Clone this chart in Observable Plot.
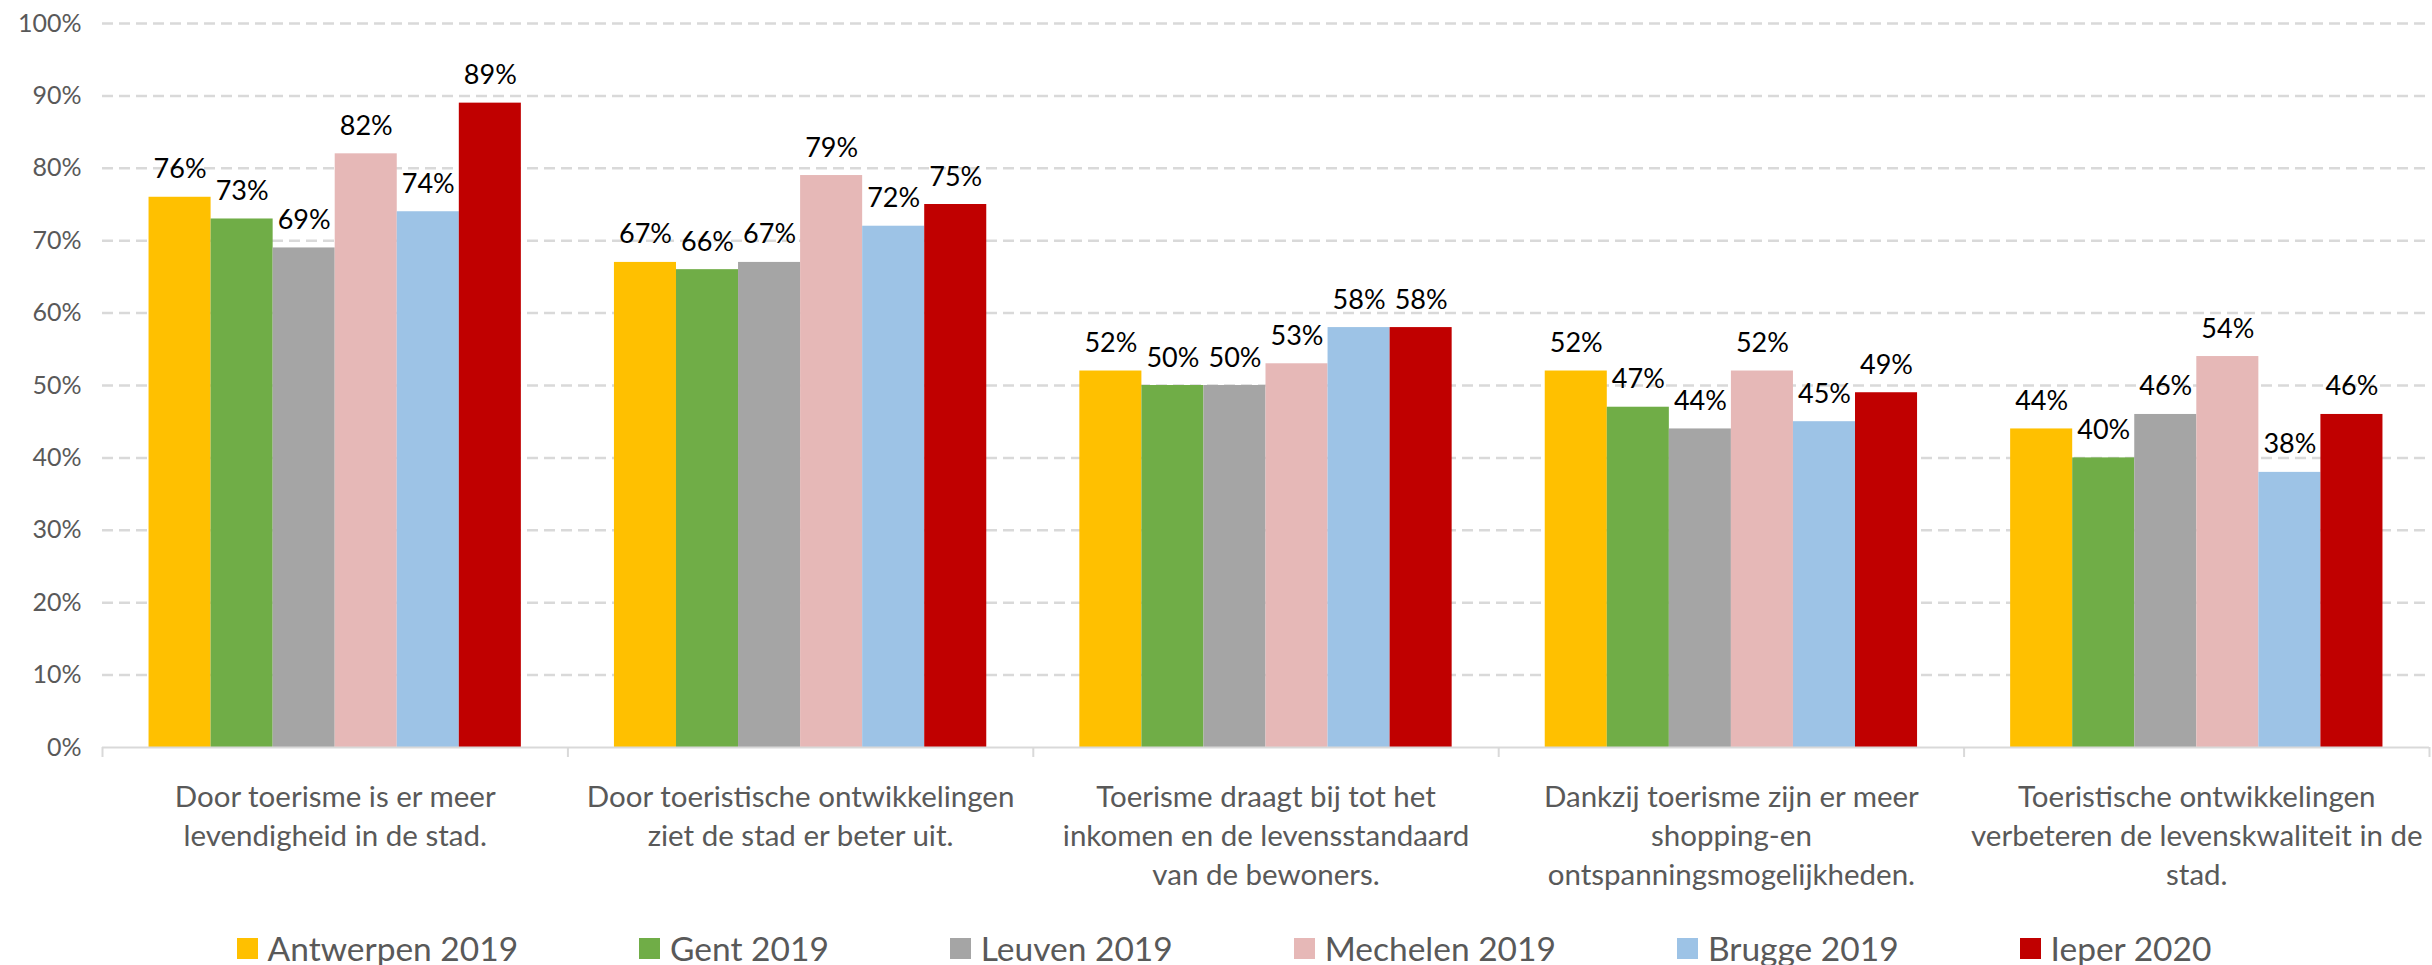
<!DOCTYPE html>
<html>
<head>
<meta charset="utf-8">
<script src="https://cdn.jsdelivr.net/npm/d3@7"></script>
<script src="https://cdn.jsdelivr.net/npm/@observablehq/plot@0.6"></script>
<style>
  html, body { margin: 0; padding: 0; background: #fff; }
  #chart { width: 2432px; }
  #legend { display: flex; justify-content: center; align-items: center; gap: 121px;
    font-family: Lato, "Open Sans", sans-serif; font-size: 33.5px; color: #595959;
    height: 34px; margin-top: 26px; padding-left: 16px; }
  .item { display: flex; align-items: center; white-space: nowrap; }
  .sw { width: 21px; height: 21px; margin-right: 10px; display: inline-block; }
</style>
</head>
<body>
<div id="chart"></div>
<div id="legend"></div>
<script>
const categories = [
  "Door toerisme is er meer\nlevendigheid in de stad.",
  "Door toeristische ontwikkelingen\nziet de stad er beter uit.",
  "Toerisme draagt bij tot het\ninkomen en de levensstandaard\nvan de bewoners.",
  "Dankzij toerisme zijn er meer\nshopping-en\nontspanningsmogelijkheden.",
  "Toeristische ontwikkelingen\nverbeteren de levenskwaliteit in de\nstad."
];
const seriesNames = ["Antwerpen 2019", "Gent 2019", "Leuven 2019", "Mechelen 2019", "Brugge 2019", "Ieper 2020"];
const seriesColors = ["#FFC000", "#70AD47", "#A5A5A5", "#E6B8B7", "#9DC3E6", "#C00000"];
const antwerpen = [76, 67, 52, 52, 44];
const gent      = [73, 66, 50, 47, 40];
const leuven    = [69, 67, 50, 44, 46];
const mechelen  = [82, 79, 53, 52, 54];
const brugge    = [74, 72, 58, 45, 38];
const ieper     = [89, 75, 58, 49, 46];
const yTicks = [0, 10, 20, 30, 40, 50, 60, 70, 80, 90, 100];

const seriesValues = [antwerpen, gent, leuven, mechelen, brugge, ieper];
const groupPad = 0.1;
const barW = (1 - 2 * groupPad) / seriesNames.length;
const rows = [];
seriesNames.forEach((s, j) => {
  seriesValues[j].forEach((v, i) => {
    const x1 = i + groupPad + j * barW;
    rows.push({series: s, cat: i, value: v, x1, x2: x1 + barW});
  });
});

const chart = Plot.plot({
  width: 2432,
  height: 905,
  marginLeft: 102,
  marginRight: 3,
  marginTop: 23,
  marginBottom: 158,
  style: {fontFamily: "Lato, 'Open Sans', sans-serif", background: "#fff"},
  x: {type: "linear", domain: [0, categories.length]},
  y: {domain: [0, 100]},
  color: {domain: seriesNames, range: seriesColors},
  marks: [
    Plot.ruleY(yTicks.filter(d => d > 0), {stroke: "#D9D9D9", strokeWidth: 2.5, strokeDasharray: "11,6"}),
    Plot.rectY(rows, {x1: "x1", x2: "x2", y: "value", fill: "series"}),
    Plot.ruleY([0], {stroke: "#D9D9D9", strokeWidth: 2}),
    Plot.text(rows, {x: d => (d.x1 + d.x2) / 2, y: "value", text: d => d.value + "%",
      lineAnchor: "bottom", dy: -19, fontSize: 27, fill: "#000"}),
    Plot.axisY({ticks: yTicks, tickFormat: d => d + "%", tickSize: 0, tickPadding: 21,
      fontSize: 25, fill: "#595959", label: null}),
    Plot.axisX({ticks: d3.range(categories.length + 1), tickSize: 10, tickFormat: () => "",
      stroke: "#D9D9D9", strokeWidth: 2, label: null}),
    Plot.axisX({ticks: categories.map((_, i) => i + 0.5), tickSize: 0, tickPadding: 32,
      tickFormat: d => categories[Math.floor(d)], lineHeight: 1.32, fontSize: 29.5,
      fill: "#595959", label: null})
  ]
});
document.getElementById("chart").appendChild(chart);

const legend = document.getElementById("legend");
seriesNames.forEach((s, j) => {
  const item = document.createElement("div");
  item.className = "item";
  const sw = document.createElement("span");
  sw.className = "sw";
  sw.style.background = seriesColors[j];
  item.appendChild(sw);
  item.appendChild(document.createTextNode(s));
  legend.appendChild(item);
});
</script>
</body>
</html>
